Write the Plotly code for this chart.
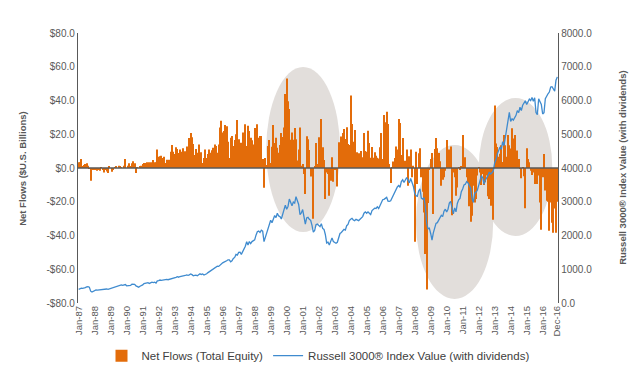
import plotly.graph_objects as go

# ---------------- data ----------------
month_names = ["Jan", "Feb", "Mar", "Apr", "May", "Jun",
               "Jul", "Aug", "Sep", "Oct", "Nov", "Dec"]
years = list(range(1987, 2017))

# Net flows, total equity ($US billions), monthly
flows_1987_1991 = [
    3.4, 3.4, 5.3, 1.0, 1.8, 2.4, 2.8, 1.4, -0.5, -7.5, -0.6, -1.0,
    -0.6, -1.2, -1.6, -1.2, -1.6, 0.4, -1.2, -2.6, -1.2, -2.0, -3.0, 1.0,
    0.0, -2.2, -1.2, 0.4, 1.0, 0.0, 1.4, 1.0, 0.4, 0.0, 1.4, 5.3,
    0.0, 1.4, 2.8, 1.0, 2.8, 4.0, 2.8, -3.0, 0.3, 0.0, 1.0, 1.4,
    2.4, 3.0, 3.0, 3.4, 1.0, 3.4, 3.4, 3.0, 4.7, 3.4, 3.2, 10.9,
]
flows_1992_1996 = [
    6.7, 6.9, 7.3, 5.9, 6.7, 3.0, 4.9, 4.7, 4.9, 9.7, 13.6, 9.7,
    8.3, 12.3, 11.3, 8.9, 10.9, 9.7, 11.7, 8.9, 9.9, 12.8, 8.9, 17.8,
    20.8, 18.2, 14.2, 7.7, 11.3, 9.0, 14.0, 8.5, 9.3, 3.0, 6.0, 11.0,
    6.0, 8.3, 11.0, 9.0, 10.5, 12.0, 14.0, 13.0, 9.0, 14.0, 24.0, 28.0,
    21.0, 22.0, 25.5, 24.7, 15.6, 6.0, 18.0, 19.0, 13.0, 16.6, 20.0, 28.5,
]
flows_1997_2001 = [
    17.0, 4.0, 15.0, 21.0, 16.0, 26.0, 13.0, 25.0, 22.0, 18.0, 16.4, 14.0,
    23.7, 22.0, 26.0, 18.0, 19.0, 19.0, 5.3, -11.7, 6.0, 1.8, 13.0, 16.6,
    3.0, 12.6, 25.5, 14.8, 18.0, 12.0, 9.0, 13.6, 20.7, 18.4, 24.0, 43.9,
    53.0, 39.5, 35.0, 16.8, 21.0, 16.8, 23.7, 17.0, 4.5, 11.0, 24.0, 1.4,
    2.4, -3.5, -15.4, 18.8, 17.0, 10.7, -5.0, -1.0, -30.0, 0.6, 14.8, 2.4,
]
flows_2002_2006 = [
    18.2, 4.9, 29.0, 12.3, 4.7, -18.4, -2.6, -3.6, -16.4, -7.5, 6.3, -8.1,
    -0.6, -0.6, -11.0, 15.2, 11.7, 18.6, 20.8, 23.1, 17.2, 24.1, 14.2, 13.6,
    42.9, 26.1, 15.6, 22.5, 5.3, 9.3, 8.7, 0.4, 10.1, 6.3, 20.8, 10.1,
    9.7, 22.1, 14.8, 6.1, 12.5, 6.1, 9.3, 7.3, 6.1, 5.7, 12.3, 20.8,
    5.3, 31.4, 27.1, 33.4, 26.1, 2.4, -8.9, 0.4, 3.8, 5.9, 12.8, 10.9,
]
flows_2007_2011 = [
    29.0, 26.7, 7.7, 17.8, 1.4, 4.3, 10.9, -10.5, 6.9, 10.9, -5.5, 1.4,
    -43.7, 9.7, -9.5, 8.7, 11.7, -5.5, -14.0, -26.3, -51.0, -72.0, -20.8, -0.6,
    5.3, 8.9, -27.3, 11.3, 17.8, 11.7, 8.9, 4.0, -10.5, -6.9, -5.5, -1.6,
    16.6, 0.4, 10.9, 12.8, -28.0, -2.6, -5.5, -16.4, -11.5, 0.4, -0.6, 1.0,
    19.6, 1.4, 6.3, -5.5, -8.9, -22.7, -31.8, -28.3, -10.5, -20.4, -18.4, -4.5,
]
flows_2012_2016 = [
    0.4, -2.6, -10.1, -3.6, -10.1, -8.5, -4.5, -16.8, -18.4, -22.3, -15.4, -30.6,
    37.0, 14.5, 12.5, 6.6, 8.5, 13.5, 3.6, 19.5, 13.5, 6.6, 19.5, 13.5,
    11.5, 23.5, 17.5, 19.5, 6.6, 10.3, 5.3, -0.2, -6.1, 0.4, -4.9, -23.9,
    11.7, 5.3, 3.4, -1.6, -4.1, -2.6, -9.5, -9.5, -9.5, -4.5, -20.4, -36.6,
    -5.5, 8.3, -13.4, -19.4, -20.0, -37.2, -20.4, -32.4, -38.3, -24.0, -38.3, -20.0,
]

# Russell 3000 index value (with dividends), monthly
index_1987_1991 = [
    405, 425, 440, 435, 440, 455, 475, 485, 470, 350, 325, 350,
    365, 385, 380, 385, 390, 405, 400, 395, 410, 415, 405, 420,
    435, 450, 455, 475, 495, 490, 515, 535, 535, 525, 535, 548,
    510, 520, 530, 525, 560, 560, 555, 505, 480, 468, 495, 505,
    535, 575, 590, 585, 605, 580, 605, 615, 605, 615, 590, 655,
]
index_1992_1996 = [
    665, 680, 670, 680, 690, 680, 700, 690, 700, 705, 725, 740,
    750, 760, 780, 765, 785, 790, 790, 815, 815, 830, 820, 835,
    860, 840, 805, 815, 825, 805, 835, 865, 845, 860, 830, 845,
    865, 900, 925, 950, 985, 1005, 1040, 1050, 1090, 1085, 1130, 1150,
    1190, 1210, 1220, 1250, 1280, 1280, 1220, 1250, 1320, 1350, 1440, 1420,
]
index_1997_2001 = [
    1500, 1505, 1440, 1510, 1610, 1680, 1815, 1720, 1820, 1760, 1820, 1850,
    1870, 2010, 2110, 2130, 2090, 2160, 2130, 1820, 1940, 2090, 2210, 2340,
    2450, 2380, 2480, 2590, 2530, 2660, 2580, 2560, 2490, 2650, 2720, 2900,
    2780, 2860, 3080, 2960, 2880, 2990, 2960, 3150, 3010, 2920, 2620, 2670,
    2770, 2500, 2340, 2520, 2540, 2480, 2450, 2300, 2100, 2150, 2320, 2340,
]
index_2002_2006 = [
    2300, 2260, 2350, 2210, 2180, 2030, 1780, 1800, 1720, 1840, 1930, 1820,
    1790, 1770, 1800, 1950, 2060, 2090, 2140, 2180, 2160, 2290, 2330, 2440,
    2480, 2510, 2460, 2440, 2480, 2470, 2440, 2480, 2510, 2560, 2660, 2700,
    2660, 2700, 2660, 2620, 2740, 2780, 2810, 2800, 2850, 2800, 2900, 3000,
    3060, 3070, 3110, 3130, 3020, 3010, 3030, 3110, 3180, 3290, 3370, 3440,
]
index_2007_2011 = [
    3480, 3430, 3600, 3650, 3570, 3640, 3720, 3640, 3560, 3690, 3570, 3460,
    3260, 3180, 3160, 3320, 3380, 3110, 3080, 3120, 2860, 2360, 2200, 2220,
    2060, 1860, 2080, 2260, 2360, 2380, 2450, 2510, 2600, 2560, 2720, 2780,
    2700, 2780, 2960, 3010, 2760, 2640, 2820, 2700, 2950, 3060, 3100, 3300,
    3380, 3500, 3520, 3600, 3560, 3480, 3400, 3100, 2980, 3250, 3280, 3340,
]
index_2012_2016 = [
    3480, 3620, 3760, 3720, 3520, 3640, 3700, 3780, 3880, 3820, 3860, 3920,
    4150, 4250, 4420, 4500, 4620, 4550, 4780, 4660, 4880, 5150, 5380, 5650,
    5380, 5460, 5420, 5500, 5560, 5700, 5640, 5800, 5700, 5860, 5930, 5990,
    5880, 5980, 6040, 6000, 6090, 5980, 6080, 5640, 5580, 6050, 5980, 5880,
    5600, 5640, 6050, 6150, 6200, 6250, 6400, 6410, 6350, 6280, 6600, 6700,
]

left_tick_values = [80, 60, 40, 20, 0, -20, -40, -60, -80]
right_tick_values = [0, 1000, 2000, 3000, 4000, 5000, 6000, 7000, 8000]

# ---------------- assemble ----------------
net_flows = (flows_1987_1991 + flows_1992_1996 + flows_1997_2001 +
             flows_2002_2006 + flows_2007_2011 + flows_2012_2016)
index_values = (index_1987_1991 + index_1992_1996 + index_1997_2001 +
                index_2002_2006 + index_2007_2011 + index_2012_2016)
months = [f"{m}-{str(y)[2:]}" for y in years for m in month_names]

x_tick_vals = [f"Jan-{str(y)[2:]}" for y in years] + ["Dec-16"]
left_tick_text = [(f"${v:.1f}" if v >= 0 else f"-${abs(v):.1f}") for v in left_tick_values]
right_tick_text = [f"{v:.1f}" for v in right_tick_values]

ORANGE = "#E36C0A"
BLUE = "#3F8BCF"
AXIS = "#595959"
ELLIPSE = "#E2DEDB"
FONT = "Liberation Sans, Arial, sans-serif"

fig = go.Figure()
fig.add_trace(go.Bar(
    x=months, y=net_flows, name="Net Flows (Total Equity)",
    marker=dict(color=ORANGE, line=dict(width=0)), yaxis="y",
))
fig.add_trace(go.Scatter(
    x=months, y=index_values, name="Russell 3000® Index Value (with dividends)",
    mode="lines", line=dict(color=BLUE, width=1.3), yaxis="y2",
))

# highlight ellipses (annotation shapes)
ellipses = [
    (0.392, 0.546, 0.263, 0.874),
    (0.704, 0.865, 0.015, 0.585),
    (0.835, 0.988, 0.248, 0.759),
]
shapes = []
for x0, x1, y0, y1 in ellipses:
    shapes.append(dict(type="circle", xref="paper", yref="paper",
                       x0=x0, x1=x1, y0=y0, y1=y1,
                       fillcolor=ELLIPSE, line=dict(width=0), layer="below"))
# category axis line at zero
shapes.append(dict(type="line", xref="paper", yref="y", x0=0, x1=1, y0=0, y1=0,
                   line=dict(color=AXIS, width=1.5), layer="above"))

# the page body adds an 8px offset, so the figure is sized to compensate
fig.update_layout(
    width=631, height=365,
    margin=dict(l=70, r=81, t=25, b=70, autoexpand=False),
    paper_bgcolor="white", plot_bgcolor="rgba(0,0,0,0)",
    font=dict(family=FONT, color=AXIS, size=10),
    bargap=0.3,
    showlegend=True,
    legend=dict(orientation="h", x=0.5, xanchor="center", y=-0.195, yanchor="middle",
                font=dict(size=11.5, color="#404040"), itemwidth=30,
                bgcolor="rgba(0,0,0,0)", tracegroupgap=0),
    shapes=shapes,
    xaxis=dict(
        type="category", categoryorder="array", categoryarray=months,
        range=[-0.5, len(months) - 0.5], automargin=False,
        tickmode="array", tickvals=x_tick_vals, ticktext=x_tick_vals,
        tickangle=-90, tickfont=dict(size=9.5, color=AXIS),
        showgrid=False, showline=False, zeroline=False, ticks="",
    ),
    yaxis=dict(
        range=[-80, 80], tickmode="array", tickvals=left_tick_values,
        ticktext=left_tick_text, tickfont=dict(size=10, color=AXIS),
        showgrid=False, zeroline=False, showline=True, automargin=False,
        linecolor=AXIS, linewidth=1.3, ticks="",
    ),
    yaxis2=dict(
        range=[0, 8000], overlaying="y", side="right", tickmode="array",
        tickvals=right_tick_values, ticktext=right_tick_text,
        tickfont=dict(size=10, color=AXIS), automargin=False,
        showgrid=False, zeroline=False, showline=True,
        linecolor=AXIS, linewidth=1.3, ticks="",
    ),
    annotations=[
        dict(text="<b>Net Flows ($U.S. Billions)</b>", xref="paper", yref="paper",
             x=-0.117, y=0.5, textangle=-90, showarrow=False,
             font=dict(size=9.5, color=AXIS), xanchor="center", yanchor="middle"),
        dict(text="<b>Russell 3000® Index Value (with dividends)</b>", xref="paper",
             yref="paper", x=1.133, y=0.5, textangle=-90, showarrow=False,
             font=dict(size=9.5, color=AXIS), xanchor="center", yanchor="middle"),
    ],
)

fig.write_html("out.html")
